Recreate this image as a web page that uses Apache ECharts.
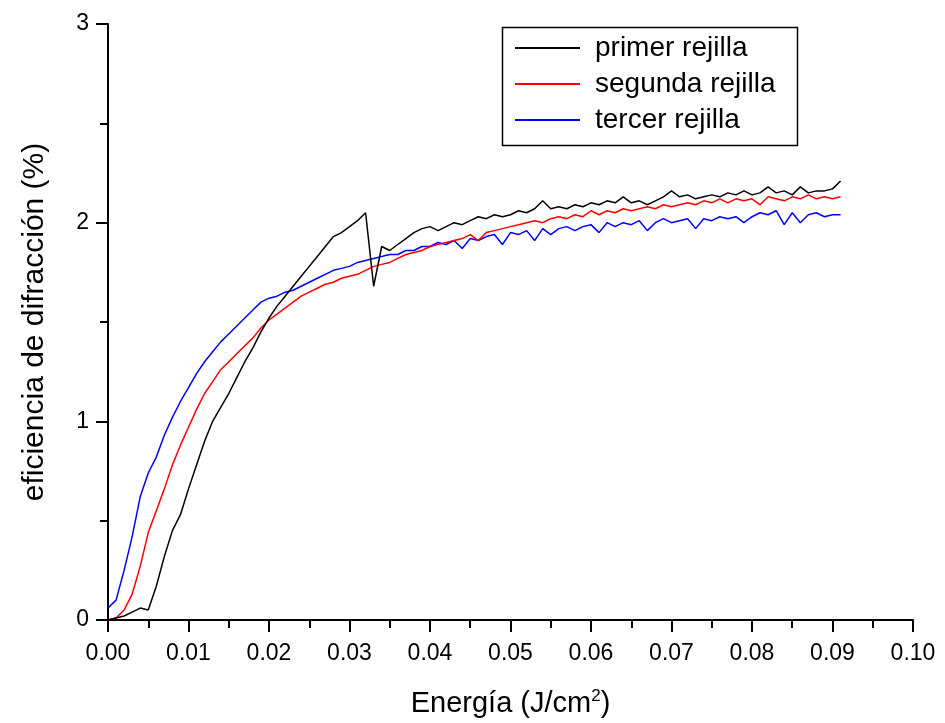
<!DOCTYPE html>
<html>
<head>
<meta charset="utf-8">
<script src="https://cdn.jsdelivr.net/npm/echarts@6/dist/echarts.min.js"></script>
<style>html,body{margin:0;padding:0;background:#fff;}#c{width:945px;height:723px;}</style>
</head>
<body>
<div id="c"></div>
<script>
const energy = [0.000,0.001,0.002,0.003,0.004,0.005,0.006,0.007,0.008,0.009,
0.010,0.011,0.012,0.013,0.014,0.015,0.016,0.017,0.018,0.019,
0.020,0.021,0.022,0.023,0.024,0.025,0.026,0.027,0.028,0.029,
0.030,0.031,0.032,0.033,0.034,0.035,0.036,0.037,0.038,0.039,
0.040,0.041,0.042,0.043,0.044,0.045,0.046,0.047,0.048,0.049,
0.050,0.051,0.052,0.053,0.054,0.055,0.056,0.057,0.058,0.059,
0.060,0.061,0.062,0.063,0.064,0.065,0.066,0.067,0.068,0.069,
0.070,0.071,0.072,0.073,0.074,0.075,0.076,0.077,0.078,0.079,
0.080,0.081,0.082,0.083,0.084,0.085,0.086,0.087,0.088,0.089,
0.090,0.091];
const primer = [0.00,0.01,0.02,0.04,0.06,0.05,0.17,0.32,0.45,0.53,
0.66,0.78,0.90,1.00,1.07,1.14,1.22,1.30,1.37,1.45,
1.52,1.58,1.63,1.68,1.73,1.78,1.83,1.88,1.93,1.95,
1.98,2.01,2.05,1.68,1.88,1.86,1.89,1.92,1.95,1.97,
1.98,1.96,1.98,2.00,1.99,2.01,2.03,2.02,2.04,2.03,
2.04,2.06,2.05,2.07,2.11,2.07,2.08,2.07,2.09,2.08,
2.10,2.09,2.11,2.10,2.13,2.10,2.11,2.09,2.11,2.13,
2.16,2.13,2.14,2.12,2.13,2.14,2.13,2.15,2.14,2.16,
2.14,2.15,2.18,2.15,2.16,2.14,2.18,2.15,2.16,2.16,
2.17,2.21];
const segunda = [0.00,0.01,0.05,0.13,0.27,0.44,0.55,0.66,0.78,0.88,
0.97,1.06,1.14,1.20,1.26,1.30,1.34,1.38,1.42,1.47,
1.51,1.54,1.57,1.60,1.63,1.65,1.67,1.69,1.70,1.72,
1.73,1.74,1.76,1.78,1.79,1.80,1.82,1.84,1.85,1.86,
1.88,1.89,1.90,1.91,1.92,1.94,1.91,1.95,1.96,1.97,
1.98,1.99,2.00,2.01,2.00,2.02,2.03,2.02,2.04,2.03,
2.06,2.04,2.06,2.05,2.07,2.06,2.07,2.08,2.07,2.09,
2.08,2.09,2.10,2.09,2.11,2.10,2.12,2.10,2.12,2.11,
2.12,2.09,2.13,2.12,2.11,2.13,2.12,2.14,2.12,2.13,
2.12,2.13];
const tercer = [0.06,0.10,0.25,0.42,0.62,0.74,0.82,0.93,1.02,1.10,
1.17,1.24,1.30,1.35,1.40,1.44,1.48,1.52,1.56,1.60,
1.62,1.63,1.65,1.66,1.68,1.70,1.72,1.74,1.76,1.77,
1.78,1.80,1.81,1.82,1.83,1.84,1.84,1.86,1.86,1.88,
1.88,1.90,1.89,1.91,1.87,1.92,1.91,1.93,1.94,1.89,
1.95,1.94,1.96,1.91,1.97,1.94,1.97,1.98,1.96,1.98,
1.99,1.95,2.00,1.98,2.00,1.99,2.01,1.96,2.00,2.02,
2.00,2.01,2.02,1.97,2.02,2.01,2.03,2.02,2.03,2.00,
2.03,2.05,2.04,2.06,1.99,2.05,2.00,2.04,2.05,2.03,
2.04,2.04];
const seriesNames = ['primer rejilla','segunda rejilla','tercer rejilla'];
const seriesColors = ['#000000','#ff0000','#0000ff'];

const pairs = arr => energy.map((x,i)=>[x,arr[i]]);
const font = 'Liberation Sans, Arial, sans-serif';
const chart = echarts.init(document.getElementById('c'));
chart.setOption({
  animation:false,
  backgroundColor:'#fff',
  grid:{left:108,right:32,top:24,bottom:100,containLabel:false},
  xAxis:{type:'value',min:0,max:0.1,interval:0.01,
    name:'Energía (J/cm{sup|2})',nameLocation:'middle',nameGap:68,
    nameTextStyle:{fontFamily:font,fontSize:29,color:'#000',rich:{sup:{fontSize:17,verticalAlign:'top',padding:[0,0,14,0],fontFamily:font,color:'#000'}}},
    axisLine:{lineStyle:{color:'#000',width:2}},
    axisTick:{inside:false,length:12,lineStyle:{color:'#000',width:2}},
    minorTick:{show:true,splitNumber:2,length:8,lineStyle:{color:'#000',width:2}},
    splitLine:{show:false},
    axisLabel:{fontFamily:font,fontSize:23,color:'#000',margin:22,formatter:v=>v.toFixed(2)}
  },
  yAxis:{type:'value',min:0,max:3,interval:1,
    name:'eficiencia de difracción (%)',nameLocation:'middle',nameGap:58,
    nameTextStyle:{fontFamily:font,fontSize:30,color:'#000'},
    axisLine:{lineStyle:{color:'#000',width:2}},
    axisTick:{inside:false,length:12,lineStyle:{color:'#000',width:2}},
    minorTick:{show:true,splitNumber:2,length:8,lineStyle:{color:'#000',width:2}},
    splitLine:{show:false},
    axisLabel:{fontFamily:font,fontSize:23,color:'#000',margin:19}
  },
  legend:{orient:'vertical',left:515,top:34,itemGap:8,itemWidth:65,itemHeight:2,icon:'rect',padding:0,
    textStyle:{fontFamily:font,fontSize:28,lineHeight:28,color:'#000',padding:[0,0,0,10]},
    data:seriesNames},
  graphic:[{type:'rect',left:500,top:25,shape:{width:295,height:118},style:{fill:'none',stroke:'#000',lineWidth:1.5},z:100}],
  series:[primer,segunda,tercer].map((d,i)=>({
    name:seriesNames[i],type:'line',data:pairs(d),showSymbol:false,symbol:'none',
    lineStyle:{color:seriesColors[i],width:1.5},itemStyle:{color:seriesColors[i]},z:3-i
  }))
});
</script>
</body>
</html>
